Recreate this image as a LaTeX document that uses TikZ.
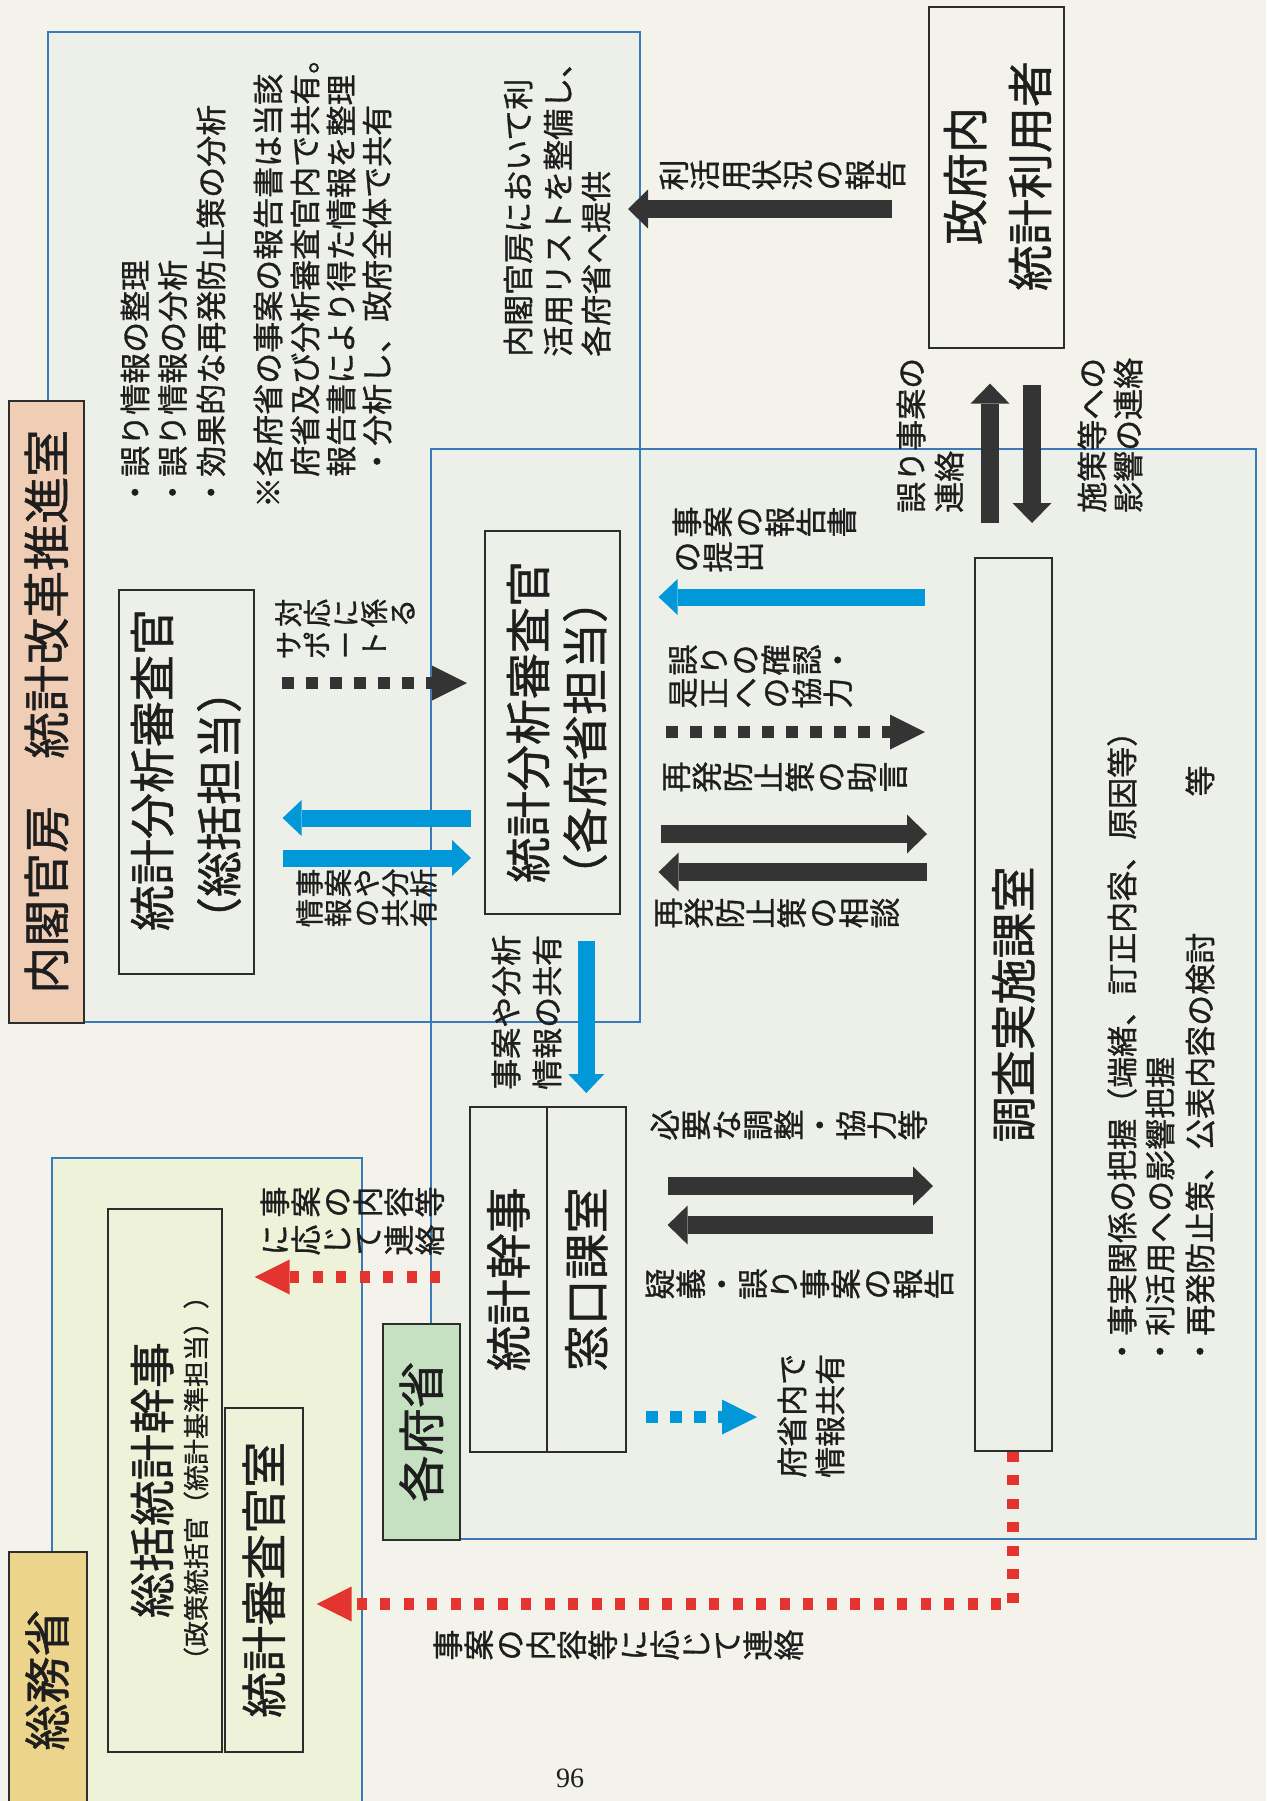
\documentclass[tikz,border=0pt]{standalone}
\usepackage{fontspec}
\setmainfont{Noto Sans CJK JP}[FakeBold=1]
\newfontfamily\pagenofont{Liberation Serif}
\usetikzlibrary{arrows.meta}

\definecolor{pagebg}{RGB}{243,243,235}
\definecolor{panelfill}{RGB}{236,240,233}
\definecolor{panelfillC}{RGB}{238,242,216}
\definecolor{panelblue}{RGB}{58,122,186}
\definecolor{boxline}{RGB}{45,45,45}
\definecolor{peach}{RGB}{240,206,182}
\definecolor{leafgreen}{RGB}{198,224,194}
\definecolor{gold}{RGB}{236,212,140}
\definecolor{cyanarrow}{RGB}{0,152,216}
\definecolor{darkarrow}{RGB}{52,52,52}
\definecolor{redarrow}{RGB}{228,52,48}
\definecolor{ink}{RGB}{30,30,30}

\newcommand\tatechar[1]{\rotatebox[origin=c]{90}{\rule[-0.12em]{0pt}{1em}\makebox[1em]{#1}}}
\newcommand\tate[1]{\tatenext#1\relax}
\newcommand\tatenext[1]{\ifx\relax#1\else\tatechar{#1}\expandafter\tatenext\fi}

\tikzset{
  panel/.style={draw=panelblue,line width=1.5pt},
  strip/.style={draw=boxline,line width=1.6pt,inner sep=0pt,anchor=north west},
  box/.style={draw=boxline,line width=1.6pt,inner sep=0pt,anchor=north west},
  yoko/.style={rotate=90,anchor=west,inner sep=0pt,text=ink,execute at begin node={\rule[-0.12em]{0pt}{1em}}},
  tatetxt/.style={anchor=west,inner sep=0pt,text=ink},
  huge/.style={font=\fontsize{47}{52}\selectfont},
  big/.style={font=\fontsize{46}{52}\selectfont},
  mid/.style={font=\fontsize{31}{37}\selectfont},
  small/.style={font=\fontsize{28.5}{33}\selectfont},
  note/.style={font=\fontsize{26}{30}\selectfont},
  fatarrow/.style={color=darkarrow,line width=18pt,-{Triangle[length=20pt,width=39pt,line width=0pt]}},
  bluearrow/.style={color=cyanarrow,line width=17pt,-{Triangle[length=19pt,width=36pt,line width=0pt]}},
  dotarrow/.style={line width=12pt,dash pattern=on 12pt off 12pt,-{Triangle[length=35pt,width=35pt,line width=0pt]}},
}

\begin{document}
\begin{tikzpicture}[x=1pt,y=-1pt]
\useasboundingbox (0,0) rectangle (1266,1801);
\fill[pagebg] (0,0) rectangle (1266,1801);
\fill[panelfill] (48,32) rectangle (640,1022);
\fill[panelfill] (431,449) rectangle (1256,1539);
\fill[panelfillC] (52,1158) rectangle (362,1830);
\draw[panel] (48,32) rectangle (640,1022);
\draw[panel] (431,449) rectangle (1256,1539);
\draw[panel] (52,1158) rectangle (362,1830);

\node[strip,fill=peach,minimum width=75pt,minimum height=622pt] (naikaku) at (8,400) {};
\node[strip,fill=leafgreen,minimum width=77pt,minimum height=216pt] (kakufu) at (382,1323) {};
\node[strip,fill=gold,minimum width=78pt,minimum height=280pt] (somu) at (8,1551) {};
\node[yoko,huge,anchor=center] (naikakuName) at (naikaku.center) {内閣官房　統計改革推進室};
\node[yoko,huge,anchor=center] (kakufuName) at (kakufu.center) {各府省};
\node[yoko,huge,anchor=center] (somuName) at (47,1680) {総務省};

\node[box,minimum width=135pt,minimum height=341pt] (seifu) at (928,6) {};
\node[box,minimum width=135pt,minimum height=384pt] (sokatsu) at (118,589) {};
\node[box,minimum width=135pt,minimum height=383pt] (tantoB) at (484,530) {};
\node[box,minimum width=77pt,minimum height=893pt] (chosa) at (974,557) {};
\node[box,minimum width=77pt,minimum height=345pt] (kanjiA) at (469,1106) {};
\node[box,minimum width=79pt,minimum height=345pt] (kanjiB) at (546,1106) {};
\node[box,minimum width=114pt,minimum height=543pt] (sokatsuK) at (107,1208) {};
\node[box,minimum width=78pt,minimum height=344pt] (shinsa) at (224,1407) {};

\node[yoko,big,anchor=center] (seifuA) at (965,176) {政府内};
\node[yoko,big,anchor=center] (seifuB) at (1030,176) {統計利用者};
\node[yoko,big,anchor=center] (sokatsuA) at (152,770) {統計分析審査官};
\node[yoko,big,anchor=center] (sokatsuB) at (219,805) {（総括担当）};
\node[yoko,big,anchor=center] (tantoBA) at (528,722) {統計分析審査官};
\node[yoko,big,anchor=center] (tantoBB) at (585,738) {（各府省担当）};
\node[yoko,big,anchor=center] (chosaName) at (chosa.center) {調査実施課室};
\node[yoko,big,anchor=center] (kanjiAName) at (kanjiA.center) {統計幹事};
\node[yoko,big,anchor=center] (kanjiBName) at (kanjiB.center) {窓口課室};
\node[yoko,big,anchor=center] (sokatsuKA) at (152,1480) {総括統計幹事};
\node[yoko,note,anchor=center] (sokatsuKB) at (196,1478) {（政策統括官（統計基準担当））};
\node[yoko,big,anchor=center] (shinsaName) at (shinsa.center) {統計審査官室};

\node[yoko,mid] (memoA) at (135,508) {・誤り情報の整理};
\node[yoko,mid] (memoB) at (172.5,508) {・誤り情報の分析};
\node[yoko,mid] (memoC) at (211,508) {・効果的な再発防止策の分析};
\node[yoko,mid] (memoD) at (268,508) {※各府省の事案の報告書は当該};
\node[yoko,mid] (memoE) at (305,508) {　府省及び分析審査官内で共有。};
\node[yoko,mid] (memoF) at (341,508) {　報告書により得た情報を整理};
\node[yoko,mid] (memoG) at (377,508) {　・分析し、政府全体で共有};
\node[yoko,mid] (listA) at (518,357) {内閣官房において利};
\node[yoko,mid] (listB) at (558,357) {活用リストを整備し、};
\node[yoko,mid] (listC) at (596,357) {各府省へ提供};
\node[yoko,mid] (errA) at (911,513) {誤り事案の};
\node[yoko,mid] (errB) at (949,513) {連絡};
\node[yoko,mid] (policyA) at (1092,513) {施策等への};
\node[yoko,mid] (policyB) at (1128,513) {影響の連絡};
\node[yoko,mid] (taskA) at (1122,1367) {・事実関係の把握（端緒、訂正内容、原因等）};
\node[yoko,mid] (taskB) at (1160,1367) {・利活用への影響把握};
\node[yoko,mid] (taskC) at (1200,1367) {・再発防止策、公表内容の検討\hspace{4.4em}等};
\node[yoko,mid] (shareA) at (506,1090) {事案や分析};
\node[yoko,mid] (shareB) at (547,1090) {情報の共有};
\node[yoko,mid] (fushoA) at (792,1478) {府省内で};
\node[yoko,mid] (fushoB) at (830,1478) {情報共有};

\node[tatetxt,mid] (usageLbl) at (658,175) {\tate{利活用状況の報告}};
\node[tatetxt,mid] (reportA) at (671,522) {\tate{事案の報告書}};
\node[tatetxt,mid] (reportB) at (671,557) {\tate{の提出}};
\node[tatetxt,mid] (checkA) at (667,660) {\tate{誤りの確認・}};
\node[tatetxt,mid] (checkB) at (667,693) {\tate{是正への協力}};
\node[tatetxt,mid] (adviceLbl) at (660,777) {\tate{再発防止策の助言}};
\node[tatetxt,mid] (consultLbl) at (652,913) {\tate{再発防止策の相談}};
\node[tatetxt,mid] (coordLbl) at (649,1125) {\tate{必要な調整・協力等}};
\node[tatetxt,mid] (doubtLbl) at (644,1284) {\tate{疑義・誤り事案の報告}};
\node[tatetxt,mid] (contactLbl) at (432,1645) {\tate{事案の内容等に応じて連絡}};
\node[tatetxt,mid] (contactA) at (259,1202) {\tate{事案の内容等}};
\node[tatetxt,mid] (contactB) at (259,1240) {\tate{に応じて連絡}};
\node[tatetxt,small] (supportA) at (274,613) {\tate{対応に係る}};
\node[tatetxt,small] (supportB) at (274,645) {\tate{サポート}};
\node[tatetxt,small] (infoA) at (295,883) {\tate{事案や分析}};
\node[tatetxt,small] (infoB) at (295,913) {\tate{情報の共有}};

\node[font=\pagenofont\fontsize{28}{30}\selectfont,text=ink] (pageno) at (570,1778) {96};

\coordinate (listTip) at (628,209);
\coordinate (shareTip) at (757,1417);
\draw[fatarrow,shorten <=36pt] (seifu.west |- 0,209) -- (listTip);
\draw[fatarrow,shorten <=34pt,shorten >=35pt] (chosa.north -| 990,0) -- (seifu.south -| 990,0);
\draw[fatarrow,shorten <=36pt,shorten >=34pt] (seifu.south -| 1032,0) -- (chosa.north -| 1032,0);
\draw[bluearrow,shorten <=13pt,shorten >=28pt] (tantoB.west |- 0,818) -- (sokatsu.east |- 0,818);
\draw[bluearrow,shorten <=28pt,shorten >=13pt] (sokatsu.east |- 0,858) -- (tantoB.west |- 0,858);
\draw[dotarrow,darkarrow,shorten <=27pt,shorten >=17pt] (sokatsu.east |- 0,683) -- (tantoB.west |- 0,683);
\draw[bluearrow,shorten <=26pt,shorten >=13pt] (tantoB.south -| kanjiB.north) -- (kanjiB.north);
\draw[bluearrow,shorten <=49pt,shorten >=38pt] (chosa.west |- 0,597) -- (tantoB.east |- 0,597);
\draw[dotarrow,darkarrow,shorten <=45pt,shorten >=49pt] (tantoB.east |- 0,732) -- (chosa.west |- 0,732);
\draw[fatarrow,shorten <=40pt,shorten >=47pt] (tantoB.east |- 0,834) -- (chosa.west |- 0,834);
\draw[fatarrow,shorten <=47pt,shorten >=38pt] (chosa.west |- 0,872) -- (tantoB.east |- 0,872);
\draw[fatarrow,shorten <=41pt,shorten >=41pt] (kanjiB.east |- 0,1186) -- (chosa.west |- 0,1186);
\draw[fatarrow,shorten <=41pt,shorten >=41pt] (chosa.west |- 0,1225) -- (kanjiB.east |- 0,1225);
\draw[dotarrow,cyanarrow,shorten <=19pt] (kanjiB.east |- 0,1417) -- (shareTip);
\draw[dotarrow,redarrow,dash pattern=on 10pt off 13.5pt,shorten <=29pt,shorten >=32pt] (kanjiA.west |- 0,1277) -- (sokatsuK.east |- 0,1277);
\draw[dotarrow,redarrow,dash pattern=on 10pt off 13.5pt,shorten >=13pt] (chosa.south) |- (shinsa.east |- 0,1604);

\end{tikzpicture}
\end{document}
